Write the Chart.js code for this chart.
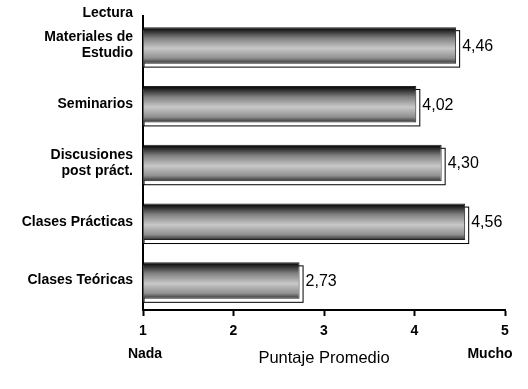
<!DOCTYPE html>
<html>
<head>
<meta charset="utf-8">
<script src="https://cdn.jsdelivr.net/npm/chart.js@4/dist/chart.umd.min.js"></script>
<style>
  html, body { margin: 0; padding: 0; background: #fff; }
  #wrap { width: 528px; height: 389px; }
</style>
</head>
<body>
<div id="wrap"><canvas id="chart"></canvas></div>
<script>
// categories (top to bottom), empty lines pad the multi-line labels
const categories = [
    ["Lectura", "", "", "Materiales de", "", "Estudio", "", "", ""],
    "Seminarios",
    ["Discusiones", "", "post práct."],
    "Clases Prácticas",
    "Clases Teóricas"
];
const values = [4.46, 4.02, 4.30, 4.56, 2.73];
const xTicks = [1, 2, 3, 4, 5];
const xTitle = "Puntaje Promedio";
const scaleEnds = ["Nada", "Mucho"];

const FONT = "'Liberation Sans', Arial, sans-serif";

// vertical cylinder-like shading for each bar
function barGradient(c) {
    const chart = c.chart;
    const y = chart.scales.y;
    if (!y || c.dataIndex === undefined) return "#999";
    const cy = y.getPixelForValue(c.dataIndex);
    const h = (y.height / values.length) * 0.62;
    if (!isFinite(cy) || !isFinite(h) || h <= 0) return "#999";
    const g = chart.ctx.createLinearGradient(0, cy - h / 2, 0, cy + h / 2);
    g.addColorStop(0, "#000");
    g.addColorStop(0.07, "#1c1c1c");
    g.addColorStop(0.3, "#808080");
    g.addColorStop(0.58, "#c8c8c8");
    g.addColorStop(0.85, "#909090");
    g.addColorStop(1, "#2e2e2e");
    return g;
}

// outlined drop shadow behind bars
const shadowPlugin = {
    id: "barShadow",
    beforeDatasetsDraw(chart) {
        const ctx = chart.ctx;
        const area = chart.chartArea;
        ctx.save();
        chart.getDatasetMeta(0).data.forEach(el => {
            const left = Math.max(el.base, area.left);
            const top = el.y - el.height / 2 + 3;
            ctx.fillStyle = "#fff";
            ctx.strokeStyle = "#000";
            ctx.lineWidth = 1;
            ctx.fillRect(left, top, el.x + 3 - left, el.height);
            ctx.strokeRect(left + 0.5, top + 0.5, el.x + 3 - left, el.height);
        });
        ctx.restore();
    }
};

// value labels and the scale-end words
const textPlugin = {
    id: "texts",
    afterDraw(chart) {
        const ctx = chart.ctx;
        ctx.save();
        ctx.fillStyle = "#000";
        ctx.textBaseline = "middle";
        ctx.font = "16px " + FONT;
        ctx.textAlign = "left";
        chart.getDatasetMeta(0).data.forEach((el, i) => {
            ctx.fillText(values[i].toFixed(2).replace(".", ","), el.x + 6, el.y + 1);
        });
        const xs = chart.scales.x;
        ctx.font = "bold 14px " + FONT;
        ctx.textAlign = "center";
        ctx.fillText(scaleEnds[0], xs.getPixelForValue(xTicks[0]) + 2, xs.bottom - 35);
        ctx.fillText(scaleEnds[1], xs.getPixelForValue(xTicks[xTicks.length - 1]) - 15, xs.bottom - 35);
        ctx.restore();
    }
};

new Chart(document.getElementById("chart"), {
    type: "bar",
    data: {
        labels: categories,
        datasets: [{
            data: values,
            base: 1,
            backgroundColor: barGradient,
            borderColor: "#222",
            borderWidth: 1,
            barPercentage: 0.62,
            categoryPercentage: 1
        }]
    },
    options: {
        indexAxis: "y",
        responsive: true,
        maintainAspectRatio: false,
        animation: false,
        layout: { padding: { top: 16, right: 23, bottom: 0, left: 0 } },
        plugins: {
            legend: { display: false },
            tooltip: { enabled: false }
        },
        scales: {
            x: {
                min: 1,
                max: 5,
                afterFit: s => { s.height = 79; },
                afterBuildTicks: s => { s.ticks = xTicks.map(v => ({ value: v })); },
                grid: {
                    drawOnChartArea: false,
                    drawTicks: true,
                    tickLength: 6,
                    tickWidth: 2,
                    tickColor: "#000"
                },
                border: { color: "#000", width: 2 },
                ticks: {
                    color: "#000",
                    padding: 7,
                    maxRotation: 0,
                    font: { family: FONT, size: 14, weight: "bold" }
                },
                title: {
                    display: true,
                    text: xTitle,
                    color: "#000",
                    padding: { top: 4, bottom: 21 },
                    font: { family: FONT, size: 16.5 }
                }
            },
            y: {
                afterFit: s => { s.width = 143; },
                grid: { display: false, drawTicks: false },
                border: { color: "#000", width: 2 },
                ticks: {
                    color: "#000",
                    padding: 10,
                    autoSkip: false,
                    font: { family: FONT, size: 14, weight: "bold", lineHeight: "8px" }
                }
            }
        }
    },
    plugins: [shadowPlugin, textPlugin]
});
</script>
</body>
</html>
